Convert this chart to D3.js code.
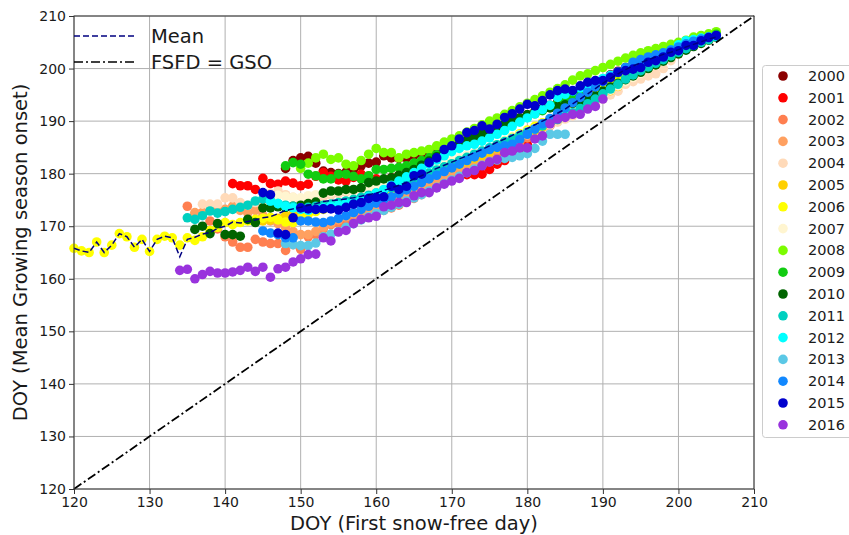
<!DOCTYPE html>
<html>
<head>
<meta charset="utf-8">
<script src="https://cdn.jsdelivr.net/npm/d3@7"></script>
<style>
  body { margin: 0; background: #fff; }
  text { font-family: "DejaVu Sans", sans-serif; fill: #1a1a1a; }
</style>
</head>
<body>
<div id="chart"></div>
<script>
// years + marker colours
var years = ["2000", "2001", "2002", "2003", "2004", "2005", "2006", "2007", "2008",
    "2009", "2010", "2011", "2012", "2013", "2014", "2015", "2016"];
var yearColors = ["#8b0000", "#ff0000", "#ff7f50", "#ffa060", "#ffdab9", "#ffd000", "#ffff00",
    "#fff5d0", "#7cfc00", "#11cc11", "#006400", "#00d0c0", "#00ffff", "#5bc8e6", "#1188ff",
    "#0000cd", "#9933dd"];

// first DOY of each year's series (one value per day after that)
var startDoy = [148, 141, 135, 136, 137, 145, 120, 146, 150, 148, 136, 135, 146, 148, 145, 145, 134];

var gso2000 = [181, 182.5, 183, 183.3, 182, 180.5, 180.2, 180, 180.3, 180.8,
    181.5, 182, 182.2, 183.4, 183, 182.9, 183, 183.5, 183.8, 184.2,
    184.6, 185, 185.5, 186, 186.5, 187, 187.6, 188.2, 188.8, 189.4,
    190, 190.6, 191.2, 191.8, 192.4, 193, 193.6, 194.2, 194.8, 195.6,
    196.4, 197.2, 198, 198.8, 199.5, 200.2, 200.8, 201.4, 202, 202.6,
    203.2, 203.8, 204.3, 204.8, 205.3, 205.8, 206.3, 206.6];
var gso2001 = [178.1, 177.7, 177.7, 177, 179.1, 178.1, 178, 178.6, 178.2, 177.7,
    178, 179.5, 180.2, 179.5, 178.8, 178.6, 179.3, 179.9, 179.5, 179,
    178.8, 179.2, 179.6, 180, 180.3, 180.3, 180.2, 180, 179.9, 179.8,
    179.8, 179.8, 179.8, 179.9, 180.8, 181.8, 182.5, 183.5, 184.5, 185.5,
    186.8, 188, 189.2, 190.5, 191.5, 192.5, 193.5, 194.5, 195.5, 196.5,
    197.5, 198.3, 199.2, 200, 200.8, 201.5, 202.2, 202.8, 203.4, 204,
    204.5, 205, 205.4, 205.9, 206.2];
var gso2002 = [173.8, 172.2, 172.6, 171, 169.5, 168, 167, 166, 166, 167.5,
    167, 166.7, 166.7, 165.4, 166.5, 165.6, 168, 168.4, 169.5, 170.3,
    170.5, 171, 171.5, 172, 172.3, 172.6, 173, 173.5, 174, 174.7,
    175.3, 176, 176.8, 177.5, 178.2, 179, 179.7, 180.5, 181.2, 182,
    182.8, 183.6, 184.4, 185.2, 186, 186.8, 187.6, 188.4, 189.2, 190,
    190.8, 191.6, 192.5, 193.4, 194.3, 195.2, 196, 196.9, 197.8, 198.6,
    199.4, 200.2, 201, 201.8, 202.5, 203.2, 203.8, 204.4, 205, 205.5,
    206];
var gso2003 = [172.6, 172.6, 173, 172.9, 173.2, 173.8, 173, 172.5, 173, 172,
    171, 170.5, 169.8, 169, 168.4, 168.4, 169, 169.8, 170.5, 171.2,
    171.8, 172.3, 172.8, 173.3, 173.8, 174.3, 174.9, 175.5, 176.1, 176.8,
    177.5, 178.2, 178.9, 179.6, 180.3, 181, 181.7, 182.4, 183.1, 183.8,
    184.6, 185.4, 186.2, 187, 187.8, 188.6, 189.4, 190.2, 191, 191.8,
    192.6, 193.4, 194.2, 195, 195.8, 196.6, 197.4, 198.2, 199, 199.8,
    200.5, 201.2, 201.9, 202.6, 203.3, 203.9, 204.5, 205, 205.5, 206];
var gso2004 = [174.2, 174.2, 174.2, 175.4, 175.4, 174.5, 174, 174.5, 175, 176.2,
    176.7, 176, 175.5, 175, 175, 175.3, 175.6, 175.9, 176.2, 176.5,
    176.8, 177.1, 177.4, 177.7, 178, 178.4, 178.8, 179.2, 179.6, 180,
    180.5, 181, 181.5, 182, 182.5, 183, 183.5, 184, 184.5, 185,
    185.6, 186.2, 186.8, 187.4, 188, 188.6, 189.2, 189.8, 190.4, 191,
    191.9, 192.7, 193.5, 194.2, 195, 195.7, 197, 197.5, 198, 198.6,
    199, 200, 201.5, 202.7, 203.6, 204.3, 205, 205.5, 206];
var gso2005 = [171, 171.2, 171.5, 172, 172.4, 172.8, 173.2, 173.5, 173.8, 174,
    174.2, 174.4, 174.7, 175, 175.3, 175.6, 176, 176.5, 177, 177.5,
    178.1, 178.7, 179.3, 179.9, 180.5, 181.1, 181.7, 182.3, 182.9, 183.5,
    184.1, 184.8, 185.5, 186.2, 186.9, 187.5, 188.2, 188.9, 189.6, 190.3,
    191, 191.8, 192.7, 193.6, 194.5, 195.3, 195.8, 196.6, 197.6, 198.5,
    199.3, 200, 200.8, 201.6, 202.3, 203, 203.7, 204.3, 204.9, 205.4,
    205.9];
var gso2006 = [165.8, 165.3, 165, 167, 165, 166.4, 168.6, 168, 166, 167.5,
    165.2, 167.5, 168.1, 167.8, 166.4, 167.8, 167.3, 168, 169.2, 169.8,
    170.7, 170.3, 170.7, 171, 171.3, 171.5, 171.7, 171.2, 170.8, 170.7,
    171.5, 172.3, 172.8, 173.2, 173.5, 173.8, 174.2, 174.6, 175, 175.4,
    175.8, 176.2, 176.8, 177.4, 178, 178.6, 179.2, 179.9, 180.6, 181.2,
    181.8, 182.4, 183, 183.6, 184.2, 184.8, 185.5, 186.2, 186.9, 187.6,
    188.3, 189, 189.7, 190.4, 191.1, 191.9, 192.7, 193.6, 194.5, 195.4,
    196.3, 197.2, 198, 198.8, 199.5, 200.2, 200.9, 201.5, 202.1, 202.7,
    203.3, 203.9, 204.5, 205, 205.5, 206];
var gso2007 = [175.5, 175.9, 175.7, 175.5, 175.4, 175.8, 176, 176.2, 176.4, 176.6,
    176.8, 177, 177.3, 177.6, 177.9, 178.3, 178.7, 179.1, 179.5, 180,
    180.5, 181, 181.5, 182, 182.5, 183, 183.5, 184, 184.5, 185,
    185.6, 186.2, 186.8, 187.4, 188, 188.6, 189.2, 189.8, 190.5, 191.2,
    191.9, 192.7, 193.5, 194.3, 195.1, 195.9, 196.7, 197.5, 198.3, 199.1,
    199.9, 200.7, 201.5, 202.2, 202.9, 203.6, 204.2, 204.8, 205.4, 205.9];
var gso2008 = [181, 182, 183, 183.7, 182.7, 183, 181.8, 181.5, 182.5, 183.7,
    184.8, 184, 184, 183, 183.7, 184, 184.3, 184.6, 185.3, 186,
    186.6, 187.2, 187.9, 188.6, 189.3, 190, 190.6, 191.3, 192, 192.7,
    193.4, 194.1, 194.8, 195.5, 196.2, 196.9, 197.8, 198.6, 199, 199.6,
    200.2, 200.8, 201.4, 202, 202.5, 203, 203.4, 203.8, 204.2, 204.6,
    205, 205.4, 206, 206.3, 206.6, 207];
var gso2009 = [181.5, 182.1, 181.8, 179.9, 179.6, 179, 179, 179.9, 179.9, 179.5,
    179, 179.6, 180.8, 180.8, 181, 181.2, 181.5, 182, 182.5, 183,
    183.6, 184.2, 184.8, 185.4, 186, 186.6, 187.2, 187.8, 188.4, 189,
    189.6, 190.2, 190.8, 191.4, 192, 192.7, 193.4, 194.1, 194.8, 195.5,
    196.2, 197, 197.8, 198.5, 199.2, 199.9, 200.5, 201.1, 201.7, 202.3,
    202.9, 203.5, 204, 204.5, 205, 205.5, 206, 206.5];
var gso2010 = [169.4, 170, 168.6, 170.5, 168.4, 168.4, 168.1, 171.3, 170.7, 173.5,
    173.5, 173.7, 173.6, 173.8, 174, 174.3, 174.6, 176.3, 176.7, 176.7,
    177, 177, 177.3, 178.3, 178.6, 179, 179.2, 179.7, 180.2, 180.8,
    181.6, 182.4, 183.2, 184, 184.8, 185.5, 186.2, 186.9, 187.6, 188.2,
    188.8, 189.4, 190, 190.6, 191.2, 191.7, 192.2, 192.5, 192.8, 193.1,
    193.4, 193.7, 194, 194.8, 195.7, 196.5, 197.2, 197.9, 198.6, 199.3,
    200, 200.7, 201.4, 202.1, 202.8, 203.5, 204.2, 204.8, 205.4, 206];
var gso2011 = [171.6, 171.3, 172, 172.9, 172.5, 172.8, 173.2, 173.6, 174, 174.8,
    175.2, 174.8, 174.3, 174, 173.8, 173.5, 173.6, 173.8, 174, 174.2,
    174.5, 174.8, 175.1, 175.5, 175.9, 176.3, 176.8, 177.3, 177.8, 178.3,
    178.9, 179.5, 180.1, 180.7, 181.3, 181.9, 182.5, 183.1, 183.7, 184.3,
    184.9, 185.5, 186.1, 186.7, 187.3, 187.9, 188.5, 189.1, 189.7, 190.3,
    190.9, 191.6, 192.4, 193.3, 194.2, 195.2, 196.1, 197, 198, 198.8,
    199.6, 200.3, 201, 201.7, 202.4, 203.1, 203.8, 204.4, 205, 205.5,
    206];
var gso2012 = [174.8, 174.3, 173.8, 173.5, 173.2, 173, 173.2, 173.5, 173.8, 174,
    174.3, 174.6, 175, 175.6, 176.3, 177, 177.8, 178.6, 179.4, 180.2,
    181, 181.8, 182.6, 183.4, 184.2, 184.8, 185.3, 185.6, 186.2, 186.8,
    187.5, 188.2, 189, 189.8, 190.6, 191.4, 192.2, 193, 194.5, 195.1,
    195.7, 196.3, 196.9, 197.5, 198.1, 198.7, 199.3, 199.9, 200.5, 201.1,
    201.7, 202.3, 202.9, 203.5, 204.5, 205.3, 205.5, 205.8, 206, 206.2];
var gso2013 = [166.7, 166.5, 166.3, 166.3, 166.8, 168, 168.5, 169, 169.8, 170.5,
    171.2, 171.8, 172.4, 173, 173.6, 174.2, 174.8, 175.4, 176, 176.7,
    177.4, 178.1, 178.8, 179.5, 180.2, 180.9, 181.6, 182.3, 182.6, 182.9,
    183.1, 183.4, 183.8, 184.8, 186.2, 187.5, 187.5, 187.5];
var gso2014 = [169.1, 168.7, 168.4, 167.8, 167.8, 171, 171, 170.8, 170.7, 171,
    171.5, 172, 172.6, 173.2, 173.8, 174.4, 175, 175.6, 176.2, 176.9,
    177.6, 178.3, 179, 179.7, 180.4, 181.1, 181.8, 182.5, 183.2, 183.9,
    184.6, 185, 185.3, 185.6, 186.5, 187.5, 188.5, 189.5, 190.5, 191.5,
    192.5, 193.5, 194.5, 195.5, 196.5, 197.5, 198.5, 199.3, 200.2, 201.2,
    201.7, 202.2, 202.6, 203, 203.5, 204.1, 204.7, 205.2, 205.6, 206,
    206.3];
var gso2015 = [176.4, 176, 168.7, 168.4, 171.6, 173.5, 173.3, 173.2, 173.3, 173.3,
    173.1, 173.6, 174.2, 174.5, 175.3, 175.5, 175.6, 177.6, 177, 177.6,
    179.6, 179.9, 182.1, 183, 184.6, 185.3, 186.6, 187.8, 188.2, 189.1,
    188.5, 189.4, 190.7, 191.4, 192.3, 193.2, 192.9, 193.9, 195, 195.8,
    196.1, 195.8, 196.7, 197.4, 197.7, 197.7, 198.3, 199.3, 199.6, 199.9,
    200.2, 201.2, 201.5, 202.2, 203.1, 203.4, 204.4, 204.4, 205.3, 205.9,
    206.3];
var gso2016 = [161.6, 161.8, 160, 160.8, 161.4, 161.1, 161.1, 161.3, 161.6, 162.2,
    161.4, 162.2, 160.3, 161.9, 162.2, 163.2, 163.8, 164.6, 164.7, 167.8,
    167.2, 168.9, 169.2, 170.5, 171.3, 171.6, 171.9, 173.7, 174, 174.5,
    174.5, 175.8, 176.4, 176.4, 177.3, 178, 178.6, 179.1, 180.2, 180.6,
    181.5, 182.2, 182.7, 184, 184.3, 184.9, 184.9, 186.6, 187.2, 189.5,
    190.4, 190.7, 191.3, 191.3, 192.3, 192.8, 194.2];

var gsoByYear = [gso2000, gso2001, gso2002, gso2003, gso2004, gso2005, gso2006, gso2007,
    gso2008, gso2009, gso2010, gso2011, gso2012, gso2013, gso2014, gso2015, gso2016];

// mean GSO over all years, DOY 120..205
var meanStart = 120;
var meanGso = [165.8, 165.3, 165, 167, 165, 166.4, 168.6, 168, 166, 167.5,
    165.2, 167.5, 168.1, 167.8, 164.2, 167.5, 167.9, 168.5, 168.8, 169.6,
    170, 170.8, 170.6, 170.9, 171.2, 171.6, 171.8, 172.4, 173, 173.3,
    173.6, 174, 174.3, 174.7, 174.9, 175, 175.2, 175.4, 175.7, 176,
    176.3, 176.8, 177.3, 177.8, 178.3, 179, 179.6, 180.3, 181, 181.6,
    182.2, 182.8, 183.4, 184, 184.6, 185.3, 186, 186.6, 187.3, 188,
    188.6, 189.3, 190, 190.7, 191.5, 192.3, 193.3, 194.2, 195.2, 196.2,
    197.2, 198.1, 199, 199.8, 200.5, 201.1, 201.7, 202.2, 202.7, 203.1,
    203.6, 204.1, 204.6, 205.1, 205.6, 206];

var axisRange = [120, 210];
var xTicks = [120, 130, 140, 150, 160, 170, 180, 190, 200, 210];
var yTicks = [120, 130, 140, 150, 160, 170, 180, 190, 200, 210];

var margin = { top: 16, right: 95, bottom: 46, left: 74 },
    width = 849 - margin.left - margin.right,
    height = 535 - margin.top - margin.bottom;

var svg = d3.select("#chart").append("svg")
    .attr("width", 849)
    .attr("height", 535);

var g = svg.append("g")
    .attr("transform", "translate(" + margin.left + "," + margin.top + ")");

var x = d3.scaleLinear().domain(axisRange).range([0, width]);
var y = d3.scaleLinear().domain(axisRange).range([height, 0]);

// grid
g.append("g").selectAll("line").data(xTicks).enter().append("line")
    .attr("x1", function (d) { return x(d); })
    .attr("x2", function (d) { return x(d); })
    .attr("y1", 0).attr("y2", height)
    .attr("stroke", "#b0b0b0").attr("stroke-width", 1);
g.append("g").selectAll("line").data(yTicks).enter().append("line")
    .attr("y1", function (d) { return y(d); })
    .attr("y2", function (d) { return y(d); })
    .attr("x1", 0).attr("x2", width)
    .attr("stroke", "#b0b0b0").attr("stroke-width", 1);

// scatter, one group per year (later years drawn on top)
var points = [];
gsoByYear.forEach(function (vals, i) {
    vals.forEach(function (v, k) {
        if (v != null) points.push({ year: i, doy: startDoy[i] + k, v: v });
    });
});
g.append("g").selectAll("circle")
    .data(points)
    .enter().append("circle")
    .attr("cx", function (d) { return x(d.doy); })
    .attr("cy", function (d) { return y(d.v); })
    .attr("r", 4.8)
    .attr("fill", function (d) { return yearColors[d.year]; });

// mean line
var meanLine = d3.line()
    .x(function (d, i) { return x(meanStart + i); })
    .y(function (d) { return y(d); });
g.append("path")
    .datum(meanGso)
    .attr("d", meanLine)
    .attr("fill", "none")
    .attr("stroke", "#000080")
    .attr("stroke-width", 1.5)
    .attr("stroke-dasharray", "6,3");

// 1:1 line
g.append("path")
    .datum(axisRange)
    .attr("d", d3.line().x(function (d) { return x(d); }).y(function (d) { return y(d); }))
    .attr("fill", "none")
    .attr("stroke", "#000")
    .attr("stroke-width", 1.8)
    .attr("stroke-dasharray", "9,3,2,3");

// axes
var xAxis = g.append("g")
    .attr("transform", "translate(0," + height + ")")
    .call(d3.axisBottom(x).tickValues(xTicks).tickSize(5).tickPadding(3));
var yAxis = g.append("g")
    .call(d3.axisLeft(y).tickValues(yTicks).tickSize(5).tickPadding(3));
[xAxis, yAxis].forEach(function (a) {
    a.selectAll("text").style("font-size", "14px").attr("fill", "#1a1a1a");
    a.selectAll("line").attr("stroke", "#333");
    a.select(".domain").remove();
});
// frame
g.append("rect")
    .attr("width", width).attr("height", height)
    .attr("fill", "none").attr("stroke", "#333").attr("stroke-width", 1);

// axis titles
svg.append("text")
    .attr("x", margin.left + width / 2)
    .attr("y", 530)
    .attr("text-anchor", "middle")
    .style("font-size", "19.5px")
    .text("DOY (First snow-free day)");
svg.append("text")
    .attr("transform", "translate(27," + (margin.top + height / 2) + ") rotate(-90)")
    .attr("text-anchor", "middle")
    .style("font-size", "19.5px")
    .text("DOY (Mean Growing season onset)");

// legend inside (lines)
var lineLegend = [
    { label: "Mean", color: "#000080", dash: "6,3", y: 36 },
    { label: "FSFD = GSO", color: "#000", dash: "9,3,2,3", y: 62 }
];
lineLegend.forEach(function (d) {
    svg.append("line")
        .attr("x1", 74).attr("x2", 135)
        .attr("y1", d.y).attr("y2", d.y)
        .attr("stroke", d.color).attr("stroke-width", 1.6)
        .attr("stroke-dasharray", d.dash);
    svg.append("text")
        .attr("x", 151).attr("y", d.y)
        .attr("dy", "0.35em")
        .style("font-size", "19.5px")
        .text(d.label);
});

// legend outside (years)
var leg = svg.append("g");
leg.append("rect")
    .attr("x", 762.5).attr("y", 65.5)
    .attr("width", 100).attr("height", 372)
    .attr("rx", 3)
    .attr("fill", "#fff")
    .attr("stroke", "#cccccc");
years.forEach(function (yr, i) {
    var yy = 76 + i * 21.8;
    leg.append("circle")
        .attr("cx", 783).attr("cy", yy).attr("r", 4.8)
        .attr("fill", yearColors[i]);
    leg.append("text")
        .attr("x", 808).attr("y", yy)
        .attr("dy", "0.35em")
        .style("font-size", "14.5px")
        .text(yr);
});
</script>
</body>
</html>
